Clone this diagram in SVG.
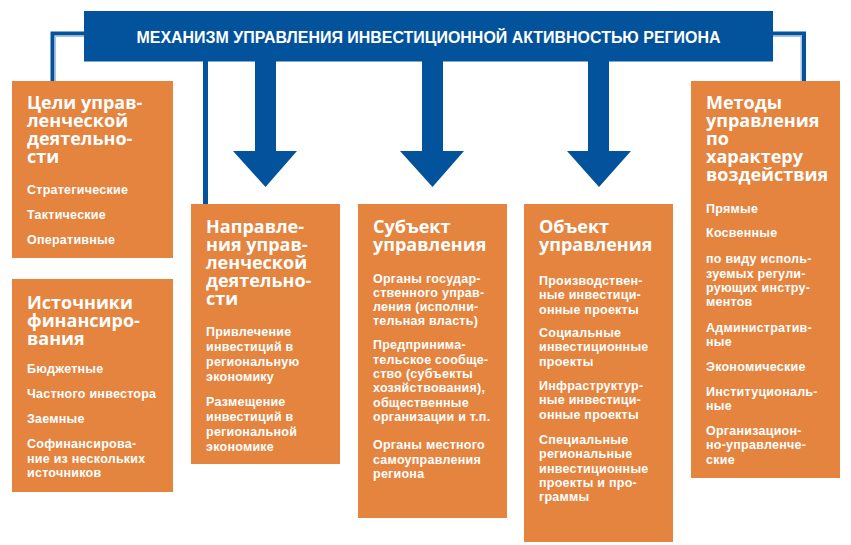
<svg xmlns="http://www.w3.org/2000/svg" width="851" height="545" viewBox="0 0 851 545">
<style>
.box{fill:#E4843F}
.blue{fill:#02529C}
.ln{fill:none;stroke:#02529C;stroke-width:4}
.hl{fill:none;stroke:#A9C2E0;stroke-width:1.5}
.t{font-family:"Open Sans","Noto Sans","DejaVu Sans",sans-serif;font-weight:700;fill:#FFFFFF;font-size:18px}
.i{font-family:"Liberation Sans","Open Sans","DejaVu Sans",sans-serif;font-weight:700;fill:#FFFFFF;font-size:12.5px;letter-spacing:0.25px}
.h{font-family:"Liberation Sans","DejaVu Sans",sans-serif;font-weight:700;fill:#FFFFFF;font-size:16px}
</style>
<rect width="851" height="545" fill="#FFFFFF"/>
<g id="connectors">
<path class="ln" d="M84 33.5 H52.5 V81"/>
<path class="hl" d="M84 36.3 H55.3 V81"/>
<path class="ln" d="M773 33.5 H804 V81"/>
<path class="hl" d="M773 36.3 H801.2 V81"/>
<path class="ln" d="M205.5 60 V204" style="stroke-width:5"/>
<polygon class="blue" points="255,60 276,60 276,151 297,151 265.5,187 233,151 255,151"/>
<polygon class="blue" points="422,60 443,60 443,151 464,151 432.5,187 400,151 422,151"/>
<polygon class="blue" points="588,60 609,60 609,151 631,151 599,187 567,151 588,151"/>
</g>
<g id="header">
<rect class="blue" x="84" y="11" width="689" height="50.5"/>
<text class="h" x="428.5" y="42.5" text-anchor="middle" textLength="584" lengthAdjust="spacingAndGlyphs">МЕХАНИЗМ УПРАВЛЕНИЯ ИНВЕСТИЦИОННОЙ АКТИВНОСТЬЮ РЕГИОНА</text>
</g>
<g id="goals">
<rect class="box" x="12" y="81" width="161" height="177"/>
<text class="t" x="27" y="109"><tspan x="27">Цели управ-</tspan><tspan x="27" dy="18">ленческой</tspan><tspan x="27" dy="18">деятельно-</tspan><tspan x="27" dy="18">сти</tspan></text>
<text class="i" x="27" y="194">Стратегические</text>
<text class="i" x="27" y="219">Тактические</text>
<text class="i" x="27" y="244">Оперативные</text>
</g>
<g id="sources">
<rect class="box" x="12" y="279" width="161" height="213"/>
<text class="t" x="27" y="309"><tspan x="27">Источники</tspan><tspan x="27" dy="18">финансиро-</tspan><tspan x="27" dy="18">вания</tspan></text>
<text class="i" x="27" y="373">Бюджетные</text>
<text class="i" x="27" y="398">Частного инвестора</text>
<text class="i" x="27" y="423">Заемные</text>
<text class="i" x="27" y="448"><tspan x="27">Софинансирова-</tspan><tspan x="27" dy="14.5">ние из нескольких</tspan><tspan x="27" dy="14.5">источников</tspan></text>
</g>
<g id="directions">
<rect class="box" x="191" y="204" width="149" height="260"/>
<text class="t" x="206" y="233"><tspan x="206">Направле-</tspan><tspan x="206" dy="18">ния управ-</tspan><tspan x="206" dy="18">ленческой</tspan><tspan x="206" dy="18">деятельно-</tspan><tspan x="206" dy="18">сти</tspan></text>
<text class="i" x="206" y="336"><tspan x="206">Привлечение</tspan><tspan x="206" dy="15">инвестиций в</tspan><tspan x="206" dy="15">региональную</tspan><tspan x="206" dy="15">экономику</tspan></text>
<text class="i" x="206" y="406"><tspan x="206">Размещение</tspan><tspan x="206" dy="15">инвестиций в</tspan><tspan x="206" dy="15">региональной</tspan><tspan x="206" dy="15">экономике</tspan></text>
</g>
<g id="subject">
<rect class="box" x="358" y="204" width="149" height="314"/>
<text class="t" x="373" y="233"><tspan x="373">Субъект</tspan><tspan x="373" dy="18">управления</tspan></text>
<text class="i" x="373" y="282.5"><tspan x="373">Органы государ-</tspan><tspan x="373" dy="14.3">ственного управ-</tspan><tspan x="373" dy="14.3">ления (исполни-</tspan><tspan x="373" dy="14.3">тельная власть)</tspan></text>
<text class="i" x="373" y="349.3"><tspan x="373">Предпринима-</tspan><tspan x="373" dy="14.3">тельское сообще-</tspan><tspan x="373" dy="14.3">ство (субъекты</tspan><tspan x="373" dy="14.3">хозяйствования),</tspan><tspan x="373" dy="14.3">общественные</tspan><tspan x="373" dy="14.3">организации и т.п.</tspan></text>
<text class="i" x="373" y="449.3"><tspan x="373">Органы местного</tspan><tspan x="373" dy="14.3">самоуправления</tspan><tspan x="373" dy="14.3">региона</tspan></text>
</g>
<g id="object">
<rect class="box" x="524" y="204" width="149" height="338"/>
<text class="t" x="539" y="233"><tspan x="539">Объект</tspan><tspan x="539" dy="18">управления</tspan></text>
<text class="i" x="539" y="285"><tspan x="539">Производствен-</tspan><tspan x="539" dy="14.3">ные инвестици-</tspan><tspan x="539" dy="14.3">онные проекты</tspan></text>
<text class="i" x="539" y="337"><tspan x="539">Социальные</tspan><tspan x="539" dy="14.3">инвестиционные</tspan><tspan x="539" dy="14.3">проекты</tspan></text>
<text class="i" x="539" y="390"><tspan x="539">Инфраструктур-</tspan><tspan x="539" dy="14.3">ные инвестици-</tspan><tspan x="539" dy="14.3">онные проекты</tspan></text>
<text class="i" x="539" y="444"><tspan x="539">Специальные</tspan><tspan x="539" dy="14.3">региональные</tspan><tspan x="539" dy="14.3">инвестиционные</tspan><tspan x="539" dy="14.3">проекты и про-</tspan><tspan x="539" dy="14.3">граммы</tspan></text>
</g>
<g id="methods">
<rect class="box" x="691" y="81" width="149" height="397"/>
<text class="t" x="706" y="109"><tspan x="706">Методы</tspan><tspan x="706" dy="18">управления</tspan><tspan x="706" dy="18">по</tspan><tspan x="706" dy="18">характеру</tspan><tspan x="706" dy="18">воздействия</tspan></text>
<text class="i" x="706" y="212.7">Прямые</text>
<text class="i" x="706" y="237.3">Косвенные</text>
<text class="i" x="706" y="263.3"><tspan x="706">по виду исполь-</tspan><tspan x="706" dy="14.3">зуемых регули-</tspan><tspan x="706" dy="14.3">рующих инстру-</tspan><tspan x="706" dy="14.3">ментов</tspan></text>
<text class="i" x="706" y="331.7"><tspan x="706">Административ-</tspan><tspan x="706" dy="14.3">ные</tspan></text>
<text class="i" x="706" y="370.7">Экономические</text>
<text class="i" x="706" y="396"><tspan x="706">Институциональ-</tspan><tspan x="706" dy="14.3">ные</tspan></text>
<text class="i" x="706" y="435"><tspan x="706">Организацион-</tspan><tspan x="706" dy="14.3">но-управленче-</tspan><tspan x="706" dy="14.3">ские</tspan></text>
</g>
</svg>
